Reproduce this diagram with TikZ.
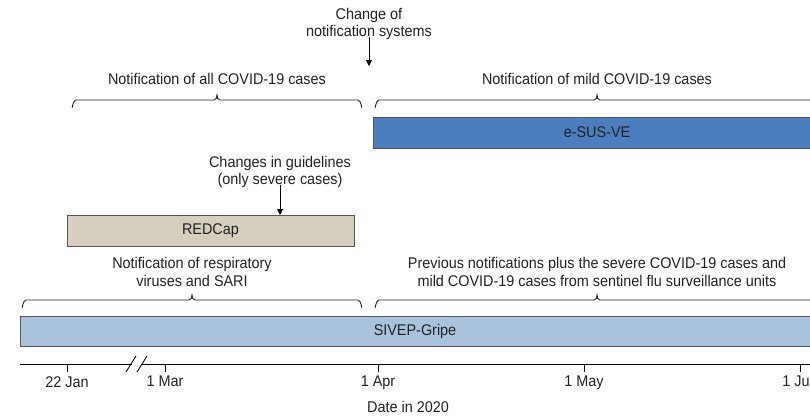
\documentclass[tikz,border=0pt]{standalone}
\usepackage{fontspec}
\setmainfont[FakeStretch=0.93]{Liberation Sans}
\usetikzlibrary{arrows.meta}
\definecolor{txt}{HTML}{222222}
\definecolor{esus}{HTML}{4A7EBE}
\definecolor{redc}{HTML}{D6CEBF}
\definecolor{sivep}{HTML}{A8C3DB}
\definecolor{edge}{HTML}{555555}
\tikzset{
  lbl/.style={font=\fontsize{15.5}{17.5}\selectfont, text=txt, align=center, inner sep=0pt},
  sysbox/.style={draw=edge, line width=0.9pt, font=\fontsize{15.5}{17.5}\selectfont, text=txt, inner sep=0pt, anchor=north west},
  arr/.style={line width=0.9pt, -{Triangle[length=6pt,width=6pt]}},
  brk/.style={line width=0.9pt, draw=txt},
  tick/.style={line width=0.9pt}
}
\newcommand{\brkt}[4]{% x1, x2, mid, y
  \draw[brk] (#1,#4+7) to[out=-90,in=180] (#1+4,#4) -- (#3-3,#4) to[out=0,in=-90] (#3,#4-5)
    to[out=-90,in=180] (#3+3,#4) -- (#2-4,#4) to[out=0,in=-90] (#2,#4+7);}
\begin{document}
\begin{tikzpicture}[x=1pt,y=-1pt]
\useasboundingbox (0,0) rectangle (810,415);

% top label
\node[lbl] (chg) at (369,24) {Change of\\notification systems};
\coordinate (chgtip) at (369,66);
\draw[arr] (chg.south) ++(0,-3) -- (chgtip);

\node[lbl] (allc) at (217,79) {Notification of all COVID-19 cases};
\node[lbl] (mild) at (597,79) {Notification of mild COVID-19 cases};
\brkt{72}{362}{217}{100}
\brkt{375}{840}{597}{100}

\node[sysbox, fill=esus, minimum width=460, minimum height=31] (esus) at (373,117) {};
\node[lbl] at (597,132.5) {e-SUS-VE};

\node[lbl] (guide) at (280,172) {Changes in guidelines\\(only severe cases)};
\node[sysbox, fill=redc, minimum width=287, minimum height=31] (redcap) at (67,215) {};
\node[lbl] at (210.5,230.5) {REDCap};
\draw[arr] (guide.south) ++(0,-3) -- (redcap.north -| guide.south);

\node[lbl] (resp) at (192,272) {Notification of respiratory\\viruses and SARI};
\node[lbl] (prev) at (597,272) {Previous notifications plus the severe COVID-19 cases and\\mild COVID-19 cases from sentinel flu surveillance units};
\brkt{22}{362}{192}{300}
\brkt{375}{840}{597}{300}

\node[sysbox, fill=sivep, minimum width=820, minimum height=30] (sivep) at (20,316) {};
\node[lbl] at (415,331) {SIVEP-Gripe};

% axis
\draw[tick] (20,364) -- (132,364);
\draw[tick] (142,364) -- (840,364);
\draw[tick] (126,372) -- (136,356);
\draw[tick] (137,372) -- (147,356);
\foreach \x/\t [count=\i] in {67/22 Jan,165/1 Mar,378/1 Apr,584/1 May,800/1 Jun}{
  \draw[tick] (\x,364) -- (\x,372);
  \node[lbl, anchor=north] (t\i) at (\x,376) {\t};
}
\node[lbl] (axl) at (408,407) {Date in 2020};
\end{tikzpicture}
\end{document}
